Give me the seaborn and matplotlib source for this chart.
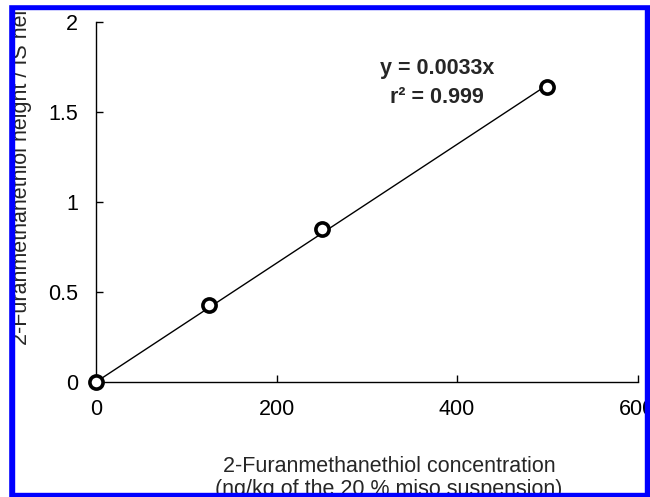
import numpy as np
import pandas as pd
import matplotlib
matplotlib.use("Agg")
import matplotlib.pyplot as plt
import seaborn as sns
from matplotlib.patches import Rectangle

# Calibration data
conc = [0, 125, 250, 500]
ratio = [0.0, 0.43, 0.85, 1.64]
slope = 0.0033
fit_x = [0, 500]
x_ticks = [0, 200, 400, 600]
x_tick_labels = ["0", "200", "400", "600"]
y_ticks = [0, 0.5, 1, 1.5, 2]
y_tick_labels = ["0", "0.5", "1", "1.5", "2"]

sns.set_theme(style="white")
plt.rcParams['font.family'] = ['Liberation Sans', 'DejaVu Sans']

W, H = 650, 497
fig = plt.figure(figsize=(W / 100, H / 100), dpi=100)
ax = fig.add_axes([96 / W, (H - 382) / H, 541.5 / W, 360 / H])

df = pd.DataFrame({"conc": conc, "ratio": ratio})
fit = pd.DataFrame({"x": fit_x, "y": [slope * v for v in fit_x]})

sns.lineplot(data=fit, x="x", y="y", ax=ax, color="black", lw=1.0)
sns.scatterplot(data=df, x="conc", y="ratio", ax=ax, s=90, marker="o",
                facecolor="white", edgecolor="black", linewidth=2.6, zorder=5,
                clip_on=False)

ax.set_xlim(0, 600)
ax.set_ylim(0, 2)
ax.set_xticks(x_ticks)
ax.set_xticklabels(x_tick_labels)
ax.set_yticks(y_ticks)
ax.set_yticklabels(y_tick_labels)
ax.set_xlabel("")
ax.set_ylabel("")
sns.despine(ax=ax)
for s in ["left", "bottom"]:
    ax.spines[s].set_color("black")
    ax.spines[s].set_linewidth(1.0)
ax.tick_params(direction="in", length=5, width=1.0, color="black",
               labelsize=15.5, labelcolor="black", bottom=True, left=True)
ax.tick_params(axis="x", pad=12)
ax.tick_params(axis="y", pad=13)

ax.text(378, 1.744, "y = 0.0033x", ha="center", va="center",
        fontsize=15.5, fontweight="bold")
ax.text(378, 1.583, "r² = 0.999", ha="center", va="center",
        fontsize=15.5, fontweight="bold")

fig.text(389 / W, (H - 467) / H, "2-Furanmethanethiol concentration",
         ha="center", va="center", fontsize=15.5)
fig.text(389 / W, (H - 490) / H, "(ng/kg of the 20 % miso suspension)",
         ha="center", va="center", fontsize=15.5)
fig.text(22 / W, (H - 162) / H, "2-Furanmethanethiol height / IS height",
         rotation=90, ha="center", va="center", fontsize=15.5)

# blue frame around the figure
blue = (0, 0, 1)
for x0, y0, w, h in [(8, 4, 6, 493), (8, 4, 642, 5), (645, 4, 5, 493), (8, 493, 642, 4)]:
    fig.patches.append(Rectangle((x0 / W, (H - y0 - h) / H), w / W, h / H,
                                 transform=fig.transFigure, color=blue, zorder=100))
# white outside the frame
fig.patches.append(Rectangle((0, 0), 8 / W, 1, transform=fig.transFigure,
                             color="white", zorder=100))
fig.patches.append(Rectangle((0, (H - 4) / H), 1, 4 / H, transform=fig.transFigure,
                             color="white", zorder=100))

fig.savefig("out.png", dpi=100)
